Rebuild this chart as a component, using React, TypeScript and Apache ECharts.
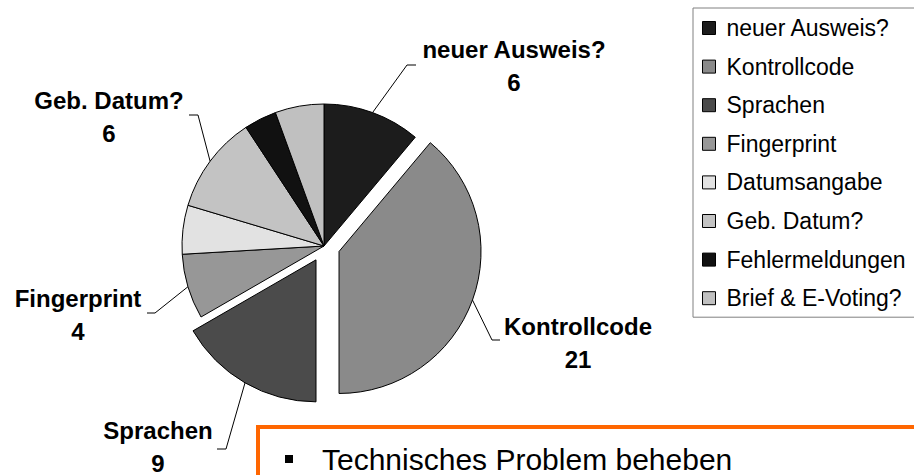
import React, { useEffect, useRef } from 'react';
import * as echarts from 'echarts';

// ---- data ----
const categories = [
  'neuer Ausweis?',
  'Kontrollcode',
  'Sprachen',
  'Fingerprint',
  'Datumsangabe',
  'Geb. Datum?',
  'Fehlermeldungen',
  'Brief & E-Voting?',
];
const values = [6, 21, 9, 4, 3, 6, 2, 3];
const explodedSlices = ['Kontrollcode', 'Sprachen'];
const labelledSlices = ['neuer Ausweis?', 'Kontrollcode', 'Sprachen', 'Fingerprint', 'Geb. Datum?'];
const bulletText = 'Technisches Problem beheben';

// ---- styles / layout ----
const sliceColors = ['#1c1c1c', '#8a8a8a', '#4b4b4b', '#979797', '#e2e2e2', '#c3c3c3', '#111111', '#c0c0c0'];
const FONT = '"Liberation Sans", Arial, sans-serif';
const PIE_CENTER = [324, 246];
const PIE_RADIUS = 142;
const EXPLODE = 16;

// label anchor (x centre, y = name centre + 11) and leader line elbow / end (layout only)
const labelPlacement: Record<string, { x: number; y: number; lineY: number; elbowX: number; endX: number }> = {
  'neuer Ausweis?': { x: 514, y: 60, lineY: 65, elbowX: 407, endX: 416 },
  Kontrollcode: { x: 578, y: 337, lineY: 340, elbowX: 492, endX: 500 },
  Sprachen: { x: 158, y: 441, lineY: 449, elbowX: 226, endX: 217 },
  Fingerprint: { x: 78, y: 309, lineY: 313, elbowX: 155, endX: 147 },
  'Geb. Datum?': { x: 109, y: 111, lineY: 115, elbowX: 198, endX: 189 },
};

const total = values.reduce((a, b) => a + b, 0);
function midAngle(i: number) {
  let cum = 0;
  for (let j = 0; j < i; j++) cum += values[j];
  return ((cum + values[i] / 2) / total) * Math.PI * 2; // clockwise from 12 o'clock
}

export default function App() {
  const ref = useRef<HTMLDivElement>(null);

  useEffect(() => {
    if (!ref.current) return;
    const chart = echarts.init(ref.current, null, { renderer: 'svg' });

    const visibleData = categories.map((name, i) => ({
      name,
      value: values[i],
      selected: explodedSlices.includes(name),
      itemStyle: { color: sliceColors[i] },
    }));

    const labelData = categories.map((name, i) => {
      const hasLabel = labelledSlices.includes(name);
      return {
        name,
        value: values[i],
        label: { show: hasLabel },
        labelLine: { show: hasLabel },
      };
    });

    const baseText = {
      fontFamily: FONT,
      fontSize: 24,
      fontWeight: 'bold' as const,
      color: '#000',
      align: 'center' as const,
    };

    chart.setOption({
      animation: false,
      backgroundColor: '#ffffff',
      legend: {
        orient: 'vertical',
        left: 693,
        top: 8,
        padding: [7, 60, 6, 9],
        itemWidth: 13,
        itemHeight: 13,
        itemGap: 12.6,
        icon: 'rect',
        selectedMode: false,
        borderColor: '#808080',
        borderWidth: 1,
        itemStyle: { borderColor: '#000', borderWidth: 1 },
        textStyle: {
          fontFamily: FONT,
          fontSize: 23,
          color: '#000',
          lineHeight: 26,
          padding: [0, 0, 0, 6],
        },
        data: categories,
      },
      graphic: [
        {
          type: 'rect',
          shape: { x: 258, y: 427, width: 760, height: 120 },
          style: { fill: '#ffffff', stroke: '#ff6600', lineWidth: 4 },
          z: 0,
        },
        {
          type: 'rect',
          shape: { x: 285, y: 455, width: 8, height: 8 },
          style: { fill: '#000' },
          z: 1,
        },
        {
          type: 'text',
          x: 322,
          y: 459,
          style: {
            text: bulletText,
            fontFamily: FONT,
            fontSize: 30,
            fill: '#000',
            verticalAlign: 'middle',
            align: 'left',
          },
          z: 1,
        },
      ],
      series: [
        {
          type: 'pie',
          center: PIE_CENTER,
          radius: PIE_RADIUS,
          startAngle: 90,
          clockwise: true,
          selectedMode: 'multiple',
          selectedOffset: EXPLODE,
          emphasis: { disabled: true },
          itemStyle: { borderColor: '#000', borderWidth: 1 },
          select: { itemStyle: { borderColor: '#000', borderWidth: 1 } },
          label: { show: false },
          labelLine: { show: false },
          data: visibleData,
          z: 2,
        },
        {
          type: 'pie',
          center: PIE_CENTER,
          radius: PIE_RADIUS,
          startAngle: 90,
          clockwise: true,
          silent: true,
          legendHoverLink: false,
          selectedMode: false,
          avoidLabelOverlap: false,
          emphasis: { disabled: true },
          itemStyle: { color: 'rgba(0,0,0,0)', borderWidth: 0 },
          label: {
            show: true,
            position: 'outside',
            width: 240,
            overflow: 'none',
            formatter: '{n|{b}}\n{v|{c}}',
            rich: {
              n: { ...baseText, lineHeight: 44 },
              v: { ...baseText, lineHeight: 22 },
            },
          },
          labelLine: {
            show: true,
            length: 10,
            length2: 10,
            lineStyle: { color: '#000', width: 1 },
          },
          labelLayout: (params: any) => {
            const i = params.dataIndex;
            const name = categories[i];
            const p = labelPlacement[name];
            if (!p) return {};
            const pts = params.labelLinePoints;
            const out: any = { x: p.x, y: p.y, align: 'center', verticalAlign: 'middle' };
            if (pts && pts.length) {
              let sx = pts[0][0];
              let sy = pts[0][1];
              if (explodedSlices.includes(name)) {
                const a = midAngle(i);
                sx += EXPLODE * Math.sin(a);
                sy -= EXPLODE * Math.cos(a);
              }
              out.labelLinePoints = [[sx, sy], [p.elbowX, p.lineY], [p.endX, p.lineY]];
            }
            return out;
          },
          data: labelData,
          z: 3,
        },
      ],
    });

    return () => chart.dispose();
  }, []);

  return (
    <div
      ref={ref}
      style={{ position: 'fixed', left: 0, top: 0, width: 914, height: 475, background: '#fff' }}
    />
  );
}
